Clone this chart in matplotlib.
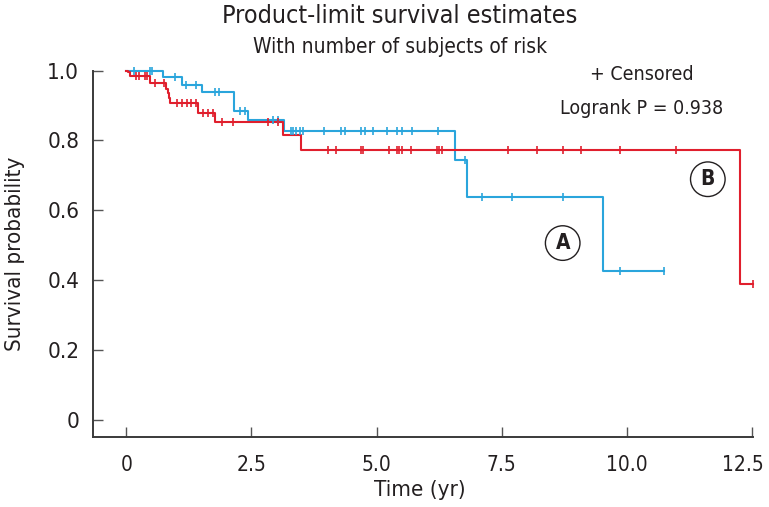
import numpy as np
import matplotlib
matplotlib.use('Agg')
import matplotlib.pyplot as plt
import matplotlib.transforms as mtransforms

plt.rcParams['font.family'] = ['DejaVu Sans']
plt.rcParams['font.stretch'] = 'condensed'

# group A (blue) step curve
a_times = [0, 0.73, 1.11, 1.51, 2.16, 2.44, 3.15, 6.56, 6.81, 9.53, 10.74]
a_surv = [1.0, 0.981, 0.959, 0.938, 0.884, 0.859, 0.828, 0.744, 0.639, 0.426, 0.426]
a_cens = [0.16, 0.47, 0.51, 0.98, 1.19, 1.40, 1.78, 1.86, 2.28, 2.38, 2.94, 3.03,
          3.29, 3.34, 3.39, 3.47, 3.54, 3.96, 4.29, 4.36, 4.69, 4.77, 4.92, 5.20,
          5.40, 5.51, 5.71, 6.23, 6.77, 7.11, 7.71, 8.72, 9.86, 10.74]

# group B (red) step curve
b_times = [0, 0.03, 0.08, 0.47, 0.80, 0.83, 0.86, 0.88, 1.44, 1.78, 3.14, 3.49, 12.27, 12.52]
b_surv = [1.0, 0.995, 0.986, 0.964, 0.947, 0.935, 0.922, 0.908, 0.88, 0.854, 0.815,
          0.773, 0.39, 0.39]
b_cens = [0.19, 0.26, 0.37, 0.41, 0.58, 0.76, 1.01, 1.11, 1.21, 1.30, 1.39, 1.54,
          1.64, 1.73, 1.92, 2.13, 2.84, 3.04, 4.03, 4.19, 4.69, 4.72, 5.24, 5.40,
          5.45, 5.50, 5.69, 6.20, 6.25, 6.30, 7.63, 8.20, 8.72, 9.08, 9.87, 10.99, 12.52]

x_ticks = [0, 2.5, 5.0, 7.5, 10.0, 12.5]
x_labels = ['0', '2.5', '5.0', '7.5', '10.0', '12.5']
y_ticks = [0, 0.2, 0.4, 0.6, 0.8, 1.0]
y_labels = ['0', '0.2', '0.4', '0.6', '0.8', '1.0']

blue = '#2aa5dc'
red = '#e01f2d'
ink = '#231f20'

fig = plt.figure(figsize=(7.69, 5.07), dpi=100)
ax = fig.add_axes([0.121, 0.138, 0.858, 0.7225])


def draw_curve(times, surv, cens, color):
    times = np.array(times)
    surv = np.array(surv)
    ax.step(times, surv, where='post', color=color, lw=1.5, clip_on=False, zorder=3)
    idx = np.searchsorted(times, cens, side='right') - 1
    ax.plot(cens, surv[idx], ls='none', marker='|', ms=6, mew=1.2,
            color=color, clip_on=False, zorder=4)


draw_curve(a_times, a_surv, a_cens, blue)
draw_curve(b_times, b_surv, b_cens, red)

ax.set_xlim(-0.665, 12.52)
ax.set_ylim(-0.05, 1.0)
ax.set_xticks(x_ticks)
ax.set_xticklabels(x_labels)
ax.set_yticks(y_ticks)
ax.set_yticklabels(y_labels)
for s in ['top', 'right']:
    ax.spines[s].set_visible(False)
for s in ['left', 'bottom']:
    ax.spines[s].set_linewidth(1.4)
    ax.spines[s].set_color('#3a3a3a')
ax.tick_params(direction='in', length=7, width=1, color='#555555',
               labelsize=16, labelcolor=ink)
ax.tick_params(axis='x', pad=13, labelsize=15)
ax.tick_params(axis='y', pad=10)

# nudge the last x label so it stays inside the figure
last = ax.get_xticklabels()[-1]
last.set_transform(last.get_transform() +
                   mtransforms.ScaledTranslation(-9 / 100, 0, fig.dpi_scale_trans))

ax.text(10.3, 0.988, '+ Censored', ha='center', va='center', fontsize=14, color=ink)
ax.text(10.3, 0.893, 'Logrank P = 0.938', ha='center', va='center', fontsize=14, color=ink)

circ = dict(boxstyle='circle,pad=0.35', fc='white', ec=ink, lw=1.0)
ax.text(8.72, 0.506, 'A', ha='center', va='center', fontsize=15, fontweight='bold',
        color=ink, bbox=circ)
ax.text(11.62, 0.689, 'B', ha='center', va='center', fontsize=15, fontweight='bold',
        color=ink, bbox=circ)

fig.text(0.52, 0.968, 'Product-limit survival estimates', ha='center', va='center',
         fontsize=18, color=ink)
fig.text(0.52, 0.908, 'With number of subjects of risk', ha='center', va='center',
         fontsize=15, color=ink)
fig.text(0.02, 0.50, 'Survival probability', ha='center', va='center', rotation=90,
         fontsize=16, color=ink)
fig.text(0.546, 0.034, 'Time (yr)', ha='center', va='center', fontsize=16, color=ink)

fig.savefig('out.png', dpi=100)
